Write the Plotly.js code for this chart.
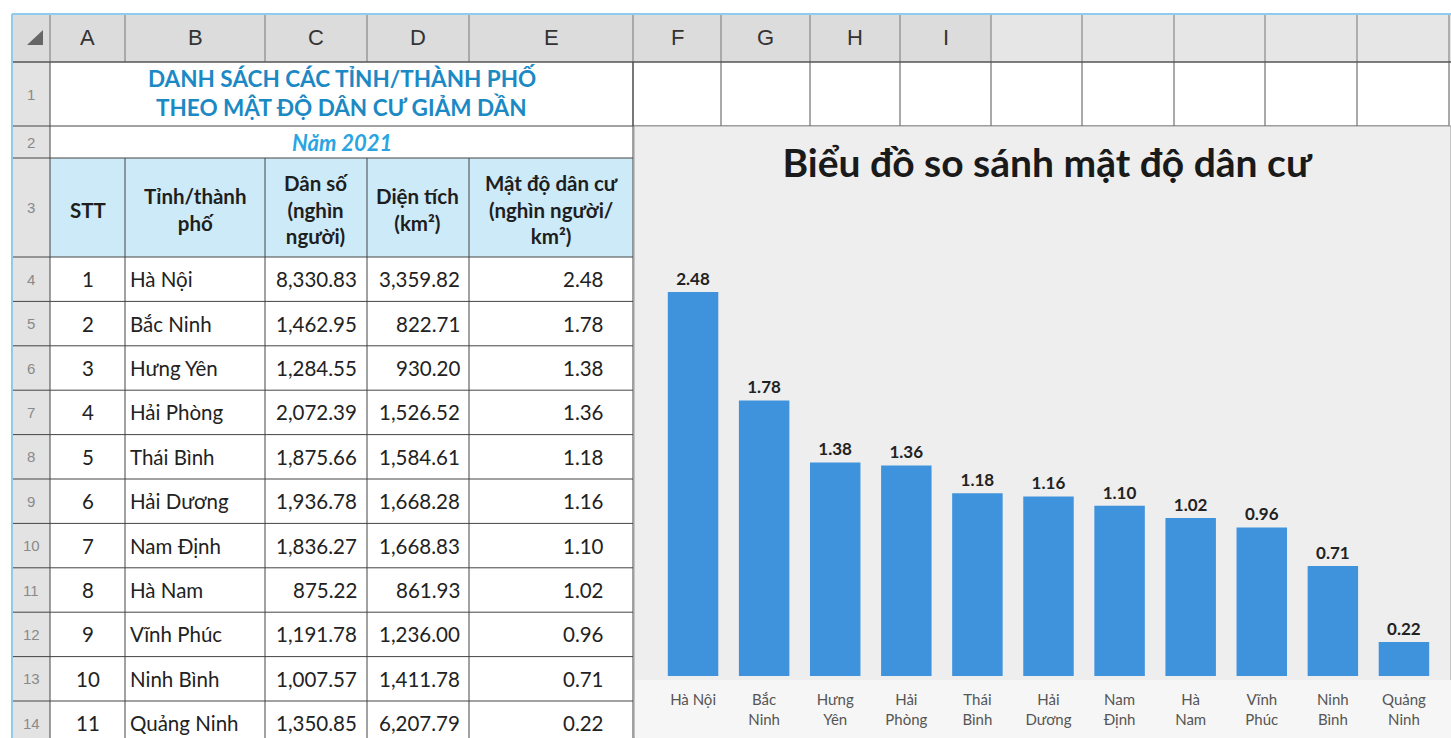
<!DOCTYPE html>
<html>
<head>
<meta charset="utf-8">
<script src="https://cdn.plot.ly/plotly-3.0.1.min.js"></script>
<style>html,body{margin:0;padding:0;background:#fff;}#chart{width:1451px;height:738px;}</style>
</head>
<body>
<div id="chart"></div>
<script>
// ---------------- DATA ----------------
const colLetters = ['A','B','C','D','E','F','G','H','I','','','','','',''];
const rowNumbers = ['1','2','3','4','5','6','7','8','9','10','11','12','13','14'];
const sheetTitle1 = 'DANH SÁCH CÁC TỈNH/THÀNH PHỐ';
const sheetTitle2 = 'THEO MẬT ĐỘ DÂN CƯ GIẢM DẦN';
const sheetYear = 'Năm 2021';
const headers = ['STT','Tỉnh/thành<br>phố','Dân số<br>(nghìn<br>người)','Diện tích<br>(km²)','Mật độ dân cư<br>(nghìn người/<br>km²)'];
const stt = [1,2,3,4,5,6,7,8,9,10,11];
const provinces = ['Hà Nội','Bắc Ninh','Hưng Yên','Hải Phòng','Thái Bình','Hải Dương','Nam Định','Hà Nam','Vĩnh Phúc','Ninh Bình','Quảng Ninh'];
const population = [8330.83,1462.95,1284.55,2072.39,1875.66,1936.78,1836.27,875.22,1191.78,1007.57,1350.85];
const area = [3359.82,822.71,930.20,1526.52,1584.61,1668.28,1668.83,861.93,1236.00,1411.78,6207.79];
const density = [2.48,1.78,1.38,1.36,1.18,1.16,1.10,1.02,0.96,0.71,0.22];
const tickLabels = ['Hà Nội','Bắc<br>Ninh','Hưng<br>Yên','Hải<br>Phòng','Thái<br>Bình','Hải<br>Dương','Nam<br>Định','Hà<br>Nam','Vĩnh<br>Phúc','Ninh<br>Bình','Quảng<br>Ninh'];
const chartTitle = 'Biểu đồ so sánh mật độ dân cư';

// ---------------- LAYOUT GEOMETRY (pixels) ----------------
const W = 1451, H = 738;
const colEdges = [12, 50, 125, 265, 367, 469, 633, 721, 810, 900, 991, 1082, 1174, 1265, 1357, 1449];
const headerTop = 14, headerBottom = 62;
const rowEdges = [62, 126, 158, 257];
for (let k = 1; k <= 11; k++) rowEdges.push(257 + k * 44.4);
const tableRight = 633;
const chartBox = {x0: 634, y0: 126, x1: 1451, y1: 738};
const fx = v => v / W;
const fy = v => 1 - v / H;
const fmt = v => v.toLocaleString('en-US', {minimumFractionDigits: 2, maximumFractionDigits: 2});

const FONT = 'Lato, "Noto Sans", sans-serif';
const shapes = [];
const ann = [];
function rect(x0, y0, x1, y1, fill, line, lw) {
  shapes.push({type: 'rect', xref: 'paper', yref: 'paper', x0: fx(x0), x1: fx(x1), y0: fy(y1), y1: fy(y0),
    fillcolor: fill, line: {color: line || 'rgba(0,0,0,0)', width: lw || 0}, layer: 'below'});
}
function line(x0, y0, x1, y1, color, w) {
  shapes.push({type: 'line', xref: 'paper', yref: 'paper', x0: fx(x0), x1: fx(x1), y0: fy(y0), y1: fy(y1),
    line: {color: color, width: w}, layer: 'below'});
}
function text(x, y, t, opts) {
  ann.push(Object.assign({xref: 'paper', yref: 'paper', x: fx(x), y: fy(y), text: t, showarrow: false,
    xanchor: 'center', yanchor: 'middle', font: {family: FONT, size: 18, color: '#222'}}, opts || {}));
}

// Column header band
rect(colEdges[0], headerTop, colEdges[10], headerBottom, '#dcdcdc');
rect(colEdges[10], headerTop, W, headerBottom, '#e6e6e6');
// Row header column
rect(colEdges[0], headerBottom, colEdges[1], H, '#e3e3e3');
// row 3 header fill
rect(colEdges[1], rowEdges[2], tableRight, rowEdges[3], '#cdeaf8');
// corner triangle
shapes.push({type: 'path', xref: 'paper', yref: 'paper', path:
  'M ' + fx(27) + ' ' + fy(45) + ' L ' + fx(43) + ' ' + fy(45) + ' L ' + fx(43) + ' ' + fy(30) + ' Z',
  fillcolor: '#666', line: {width: 0}, layer: 'below'});

// grid: header row verticals
colEdges.forEach((x, i) => { if (i > 0) line(x, headerTop, x, headerBottom, '#777', 1); });
// row 1 verticals beyond merged area
colEdges.forEach((x, i) => { if (i >= 6) line(x, headerBottom, x, rowEdges[1], '#555', 1); });
// table verticals (rows 3..)
[1, 2, 3, 4, 5].forEach(i => line(colEdges[i], rowEdges[2], colEdges[i], H, '#444', 1));
line(colEdges[1], headerBottom, colEdges[1], rowEdges[2], '#444', 1);
line(tableRight, headerBottom, tableRight, H, '#444', 1);
// horizontal lines
line(colEdges[0], headerBottom, W, headerBottom, '#555', 1.5);
line(colEdges[0], rowEdges[1], tableRight, rowEdges[1], '#444', 1);
for (let r = 2; r < rowEdges.length; r++) line(colEdges[0], rowEdges[r], tableRight, rowEdges[r], '#444', 1);
line(tableRight, rowEdges[1], colEdges[15], rowEdges[1], '#444', 1);
// blue sheet borders
line(colEdges[0], headerTop, W, headerTop, '#8fcbea', 2);
line(colEdges[0], headerTop, colEdges[0], H, '#8fcbea', 2);

// chart background box
rect(chartBox.x0, chartBox.y0, chartBox.x1, chartBox.y1, '#eeeeee', '#9a9a9a', 1);
rect(chartBox.x0 + 1, 680, chartBox.x1, chartBox.y1, '#f6f6f6');

// column letters
colLetters.forEach((c, i) => {
  if (!c) return;
  text((colEdges[i + 1] + colEdges[i + 2]) / 2, 38, c,
    {font: {family: '"Liberation Sans", Arial, sans-serif', size: 22, color: '#333'}});
});
// row numbers
rowNumbers.forEach((n, i) => {
  text(31, (rowEdges[i] + (rowEdges[i + 1] || H + 10)) / 2, n,
    {font: {family: '"Liberation Sans", Arial, sans-serif', size: 15, color: '#8a8a8a'}});
});
// sheet title
const mergedCx = (colEdges[1] + tableRight) / 2;
text(mergedCx, 78, sheetTitle1, {font: {family: FONT, size: 22.5, color: '#1b89c4', weight: 700}});
text(mergedCx, 107, sheetTitle2, {font: {family: FONT, size: 22.5, color: '#1b89c4', weight: 700}});
text(mergedCx, 142, sheetYear, {font: {family: FONT, size: 22, color: '#2aa5e2', weight: 700, style: 'italic'}});
// header row
headers.forEach((h, i) => {
  text((colEdges[i + 1] + colEdges[i + 2]) / 2, (rowEdges[2] + rowEdges[3]) / 2 + 2, h,
    {font: {family: FONT, size: 20.5, color: '#1e1e1e', weight: 700}});
});
// body
const bodyFont = {family: FONT, size: 20.5, color: '#222'};
for (let r = 0; r < stt.length; r++) {
  const cy = (rowEdges[3 + r] + rowEdges[4 + r]) / 2;
  text((colEdges[1] + colEdges[2]) / 2, cy, String(stt[r]), {font: bodyFont});
  text(colEdges[2] + 3, cy, provinces[r], {xanchor: 'left', font: bodyFont});
  text(colEdges[4] - 8, cy, fmt(population[r]), {xanchor: 'right', font: bodyFont});
  text(colEdges[5] - 7, cy, fmt(area[r]), {xanchor: 'right', font: bodyFont});
  text(colEdges[6] - 27, cy, fmt(density[r]), {xanchor: 'right', font: bodyFont});
}

// ---------------- CHART ----------------
const plotLeft = 657.5, plotRight = 1439.5, baseY = 676, plotTop = 250;
const pxPerUnit = 154.8;
const trace = {
  type: 'bar', x: provinces, y: density,
  marker: {color: '#3f93dc', line: {width: 0}},
  text: density.map(v => v.toFixed(2)), textposition: 'outside', cliponaxis: false,
  textfont: {family: FONT, size: 17, color: '#222', weight: 700},
  hoverinfo: 'none'
};
const layout = {
  width: W, height: H,
  margin: {l: 0, r: 0, t: 0, b: 0},
  paper_bgcolor: '#ffffff', plot_bgcolor: 'rgba(0,0,0,0)',
  showlegend: false,
  bargap: 0.29,
  title: {text: chartTitle, x: fx(1047), xanchor: 'center', y: fy(163), yanchor: 'middle',
    font: {family: FONT, size: 39, color: '#1a1a1a', weight: 700}},
  xaxis: {domain: [fx(plotLeft), fx(plotRight)], anchor: 'y', type: 'category',
    tickvals: provinces, ticktext: tickLabels, showline: false, showgrid: false, zeroline: false,
    ticks: '', ticklabelstandoff: 13, tickfont: {family: FONT, size: 15, color: '#555'}, fixedrange: true},
  yaxis: {domain: [1 - baseY / H, 1 - plotTop / H], range: [0, (baseY - plotTop) / pxPerUnit],
    visible: false, fixedrange: true},
  shapes: shapes, annotations: ann
};
Plotly.newPlot('chart', [trace], layout, {staticPlot: true, displayModeBar: false});
</script>
</body>
</html>
